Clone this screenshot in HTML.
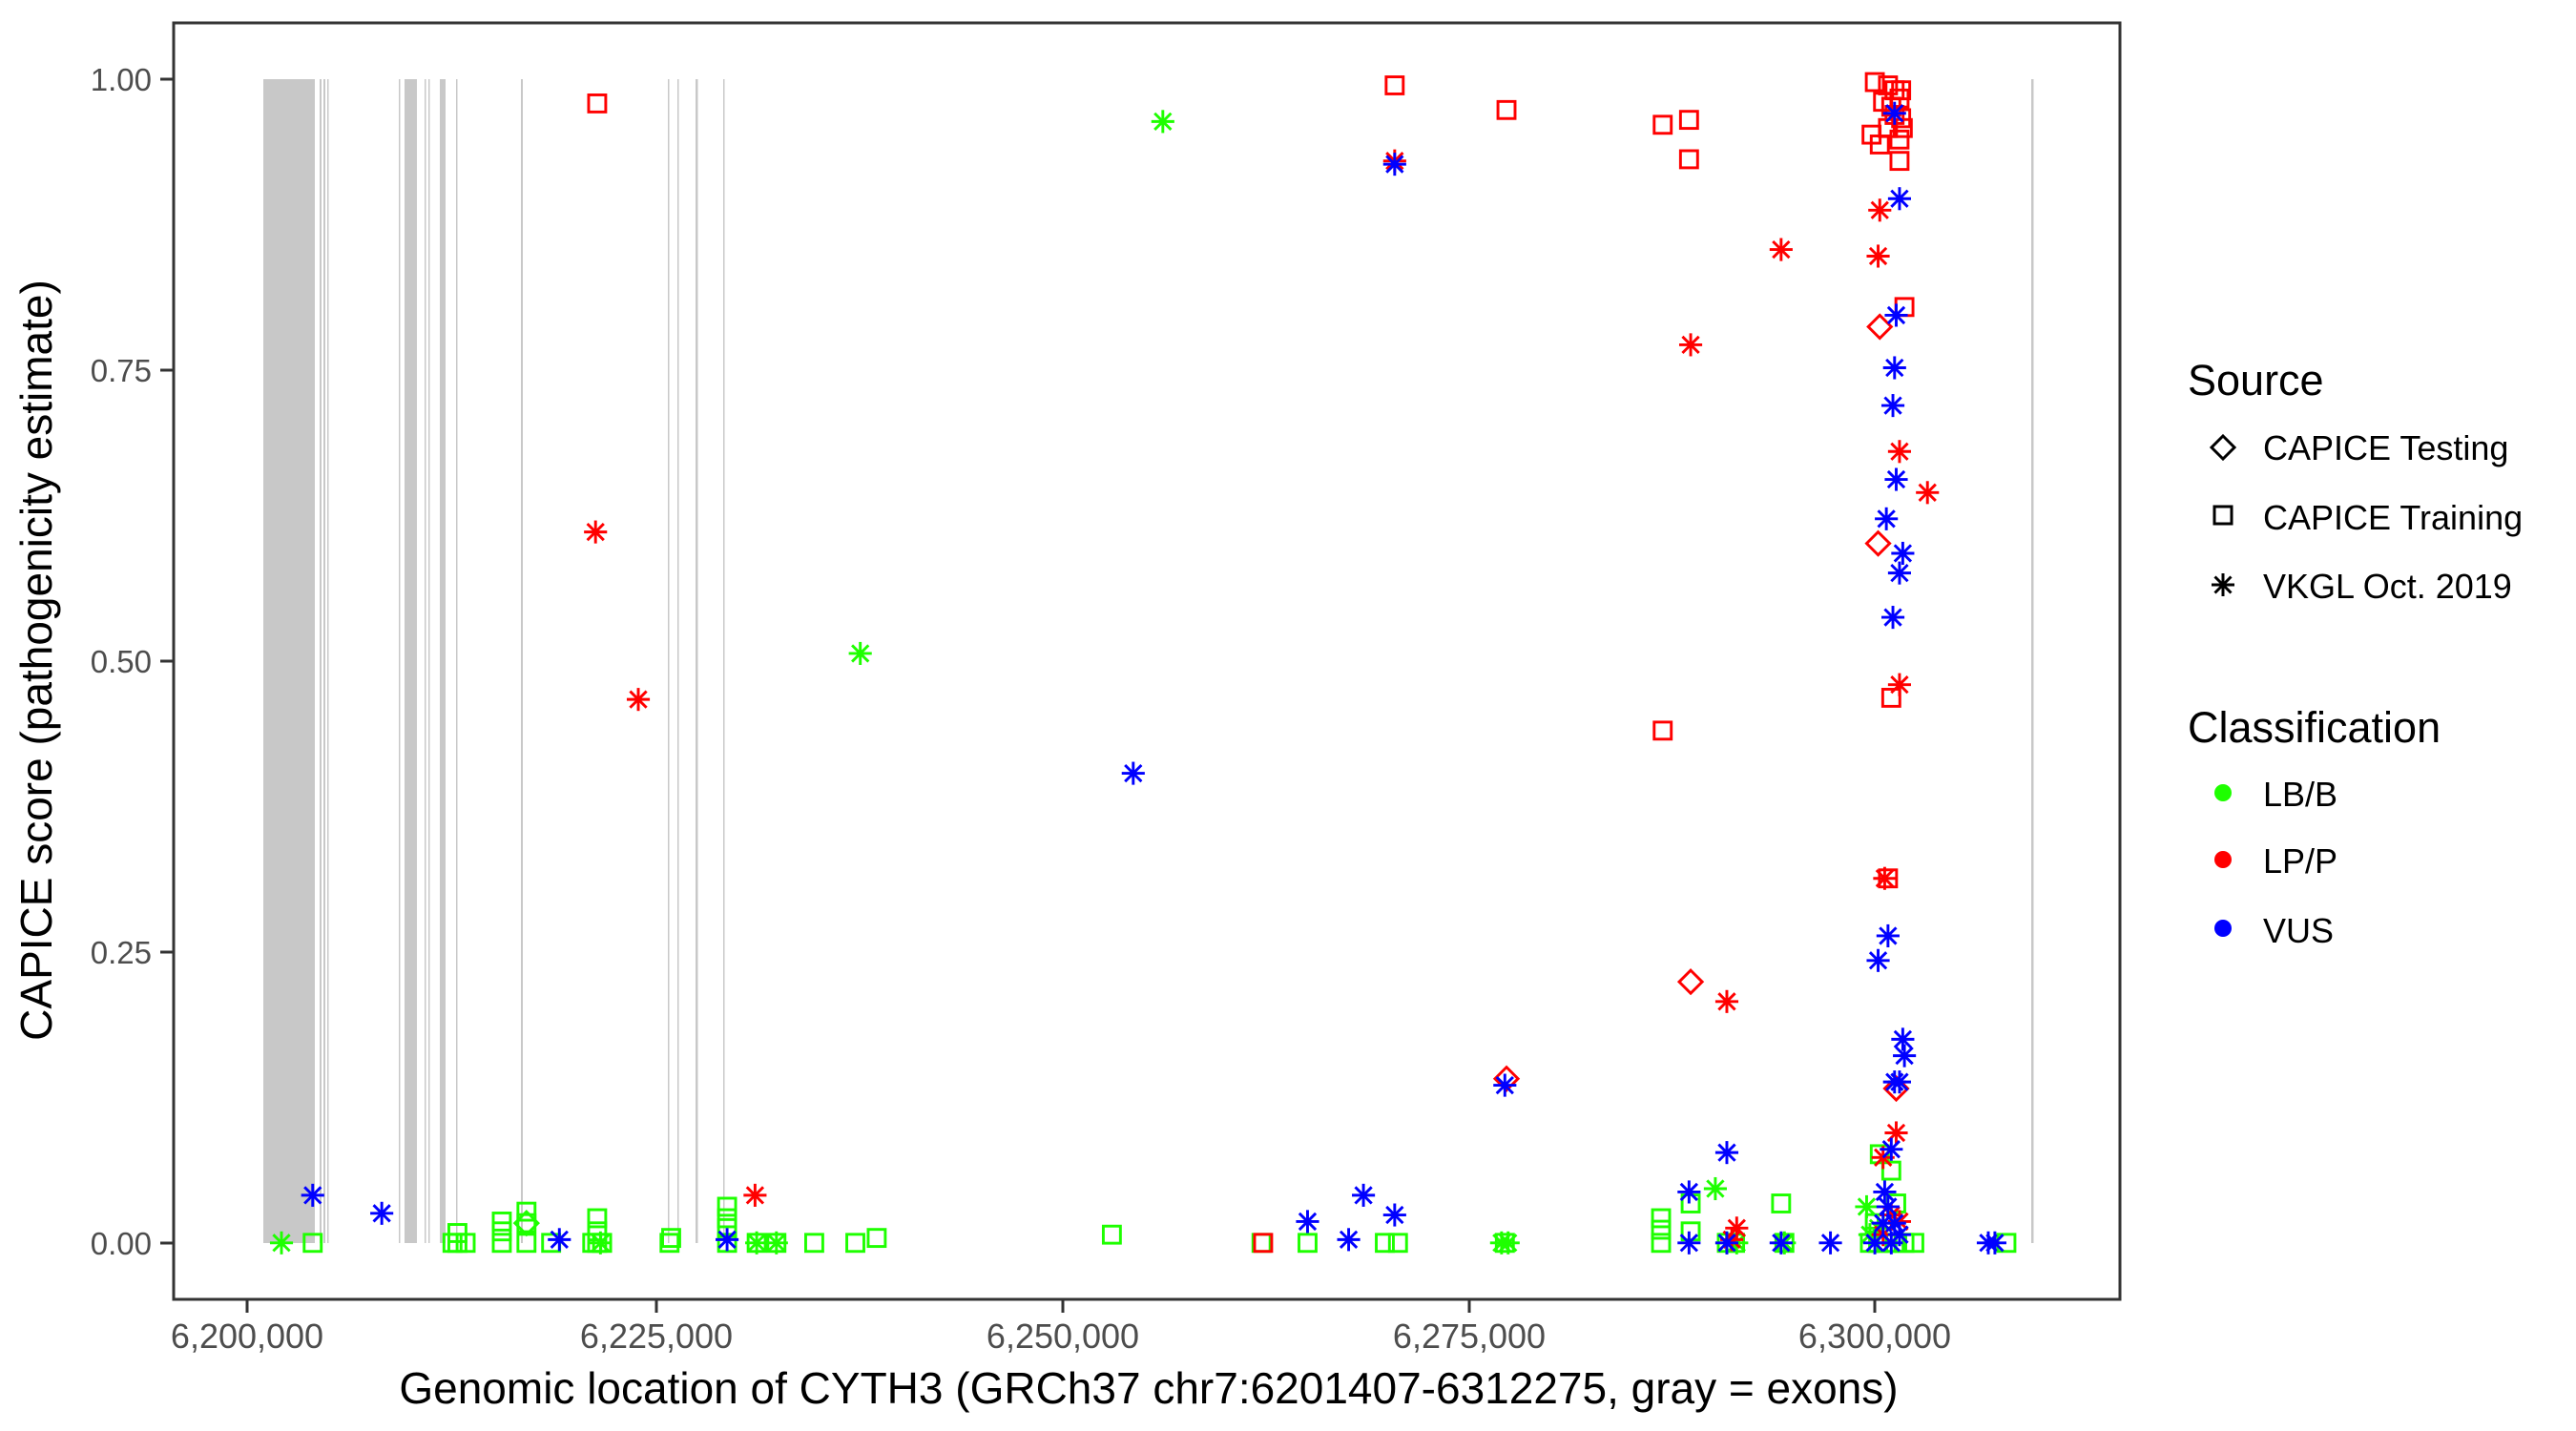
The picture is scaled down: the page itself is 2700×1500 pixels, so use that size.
<!DOCTYPE html>
<html><head><meta charset="utf-8"><style>
html,body{margin:0;padding:0;background:#fff;}
svg{display:block;font-family:"Liberation Sans",sans-serif;}
</style></head><body>
<svg width="2700" height="1500" viewBox="0 0 2700 1500" xmlns="http://www.w3.org/2000/svg">
<defs>
<g id="a" fill="none"><line x1="-7" y1="0" x2="7" y2="0"/><line x1="0" y1="-7" x2="0" y2="7"/><line x1="-5" y1="-5" x2="5" y2="5"/><line x1="-5" y1="5" x2="5" y2="-5"/></g>
<rect id="s" x="-5.2" y="-5.2" width="10.4" height="10.4" fill="none"/>
<path id="d" d="M0,-7L7,0L0,7L-7,0Z" fill="none"/>
</defs>
<rect x="0" y="0" width="2700" height="1500" fill="#fff"/>
<g fill="#c8c8c8">
<rect x="276" y="83" width="54" height="1220"/>
<rect x="335" y="83" width="2" height="1220"/><rect x="339" y="83" width="2" height="1220"/><rect x="343" y="83" width="1.5" height="1220"/>
<rect x="418" y="83" width="1.5" height="1220"/>
<rect x="424" y="83" width="13" height="1220"/>
<rect x="445" y="83" width="1.5" height="1220"/><rect x="449" y="83" width="1.5" height="1220"/>
<rect x="461" y="83" width="6" height="1220"/>
<rect x="478" y="83" width="1.5" height="1220"/>
<rect x="546" y="83" width="2" height="1220"/>
<rect x="700" y="83" width="1.5" height="1220"/><rect x="710" y="83" width="1.5" height="1220"/>
<rect x="729" y="83" width="2.5" height="1220"/>
<rect x="758" y="83" width="1.5" height="1220"/>
<rect x="2129" y="83" width="2.5" height="1220"/>
</g>
<g transform="matrix(1.7235 0 0 1.721 0.3 0)" stroke-width="1.7">
<g stroke="#1eff00">
<use href="#a" x="171" y="757"/><use href="#s" x="190" y="757"/>
<use href="#s" x="275" y="757"/><use href="#s" x="278" y="757"/><use href="#s" x="283" y="757"/><use href="#s" x="278" y="751"/>
<use href="#s" x="305" y="757"/><use href="#s" x="305" y="750"/><use href="#s" x="305" y="744"/>
<use href="#s" x="320" y="757"/><use href="#s" x="320" y="745"/><use href="#s" x="320" y="738"/><use href="#d" x="320" y="745"/>
<use href="#s" x="335" y="757"/>
<use href="#s" x="360" y="757"/><use href="#s" x="363" y="757"/><use href="#s" x="366" y="757"/><use href="#s" x="363" y="750"/><use href="#s" x="363" y="742"/><use href="#a" x="365" y="757"/>
<use href="#s" x="407" y="757"/><use href="#s" x="408" y="754"/>
<use href="#s" x="442" y="757"/><use href="#s" x="442" y="748"/><use href="#s" x="442" y="742"/><use href="#s" x="442" y="735"/>
<use href="#a" x="460" y="757"/><use href="#s" x="460" y="757"/><use href="#a" x="472" y="757"/><use href="#s" x="472" y="757"/>
<use href="#s" x="495" y="757"/><use href="#s" x="520" y="757"/><use href="#s" x="533" y="754"/>
<use href="#a" x="523" y="398"/><use href="#a" x="707" y="74"/>
<use href="#s" x="676" y="752"/>
<use href="#s" x="767" y="757"/><use href="#s" x="795" y="757"/><use href="#s" x="842" y="757"/><use href="#s" x="850" y="757"/>
<use href="#s" x="915" y="757"/><use href="#a" x="913" y="757"/><use href="#a" x="917" y="757"/>
<use href="#s" x="1010" y="757"/><use href="#s" x="1010" y="749"/><use href="#s" x="1010" y="742"/><use href="#s" x="1028" y="733"/><use href="#s" x="1028" y="750"/>
<use href="#a" x="1043" y="724"/>
<use href="#s" x="1050" y="757"/><use href="#a" x="1050" y="757"/><use href="#s" x="1055" y="757"/><use href="#a" x="1056" y="757"/><use href="#s" x="1083" y="733"/><use href="#s" x="1085" y="757"/><use href="#a" x="1085" y="757"/>
<use href="#s" x="1137" y="757"/><use href="#s" x="1142" y="757"/><use href="#s" x="1147" y="757"/><use href="#s" x="1152" y="757"/><use href="#s" x="1158" y="757"/><use href="#s" x="1164" y="757"/>
<use href="#a" x="1137" y="752"/><use href="#a" x="1142" y="748"/><use href="#s" x="1140" y="745"/>
<use href="#s" x="1143" y="703"/><use href="#s" x="1150" y="713"/><use href="#s" x="1153" y="733"/><use href="#a" x="1135" y="735"/>
<use href="#s" x="1220" y="757"/>
</g>
<g stroke="#ff0000">
<use href="#s" x="363" y="63"/><use href="#a" x="362" y="324"/><use href="#a" x="388" y="426"/><use href="#a" x="459" y="728"/>
<use href="#s" x="768" y="757"/><use href="#s" x="848" y="52"/><use href="#a" x="848" y="98"/>
<use href="#s" x="916" y="67"/><use href="#d" x="916" y="657"/>
<use href="#s" x="1011" y="76"/><use href="#s" x="1027" y="73"/><use href="#s" x="1027" y="97"/><use href="#s" x="1011" y="445"/>
<use href="#a" x="1028" y="210"/><use href="#d" x="1028" y="598"/><use href="#a" x="1050" y="610"/>
<use href="#a" x="1056" y="748"/><use href="#a" x="1053" y="755"/><use href="#a" x="1083" y="152"/>
<use href="#s" x="1140" y="50"/><use href="#s" x="1148" y="52"/><use href="#s" x="1152" y="55"/><use href="#s" x="1156" y="55"/><use href="#s" x="1145" y="62"/><use href="#s" x="1150" y="65"/><use href="#s" x="1155" y="60"/><use href="#s" x="1152" y="70"/><use href="#s" x="1156" y="72"/>
<use href="#s" x="1138" y="82"/><use href="#s" x="1143" y="88"/><use href="#s" x="1148" y="78"/><use href="#s" x="1155" y="85"/><use href="#s" x="1157" y="78"/><use href="#s" x="1155" y="98"/>
<use href="#s" x="1158" y="187"/><use href="#s" x="1150" y="425"/><use href="#s" x="1148" y="535"/>
<use href="#a" x="1143" y="128"/><use href="#a" x="1142" y="156"/><use href="#a" x="1155" y="275"/><use href="#a" x="1172" y="300"/><use href="#a" x="1155" y="417"/><use href="#a" x="1146" y="535"/><use href="#a" x="1153" y="690"/><use href="#a" x="1145" y="705"/>
<use href="#d" x="1143" y="199"/><use href="#d" x="1142" y="331"/><use href="#d" x="1153" y="663"/>
<use href="#a" x="1150" y="740"/><use href="#a" x="1145" y="752"/><use href="#a" x="1155" y="744"/>
</g>
<g stroke="#0000ff">
<use href="#a" x="190" y="728"/><use href="#a" x="232" y="739"/><use href="#a" x="340" y="755"/><use href="#a" x="442" y="755"/><use href="#a" x="689" y="471"/>
<use href="#a" x="795" y="744"/><use href="#a" x="820" y="755"/><use href="#a" x="829" y="728"/><use href="#a" x="848" y="740"/><use href="#a" x="848" y="100"/><use href="#a" x="915" y="661"/>
<use href="#a" x="1027" y="726"/><use href="#a" x="1027" y="757"/><use href="#a" x="1050" y="702"/><use href="#a" x="1050" y="757"/><use href="#a" x="1083" y="757"/><use href="#a" x="1113" y="757"/><use href="#a" x="1209" y="757"/><use href="#a" x="1213" y="757"/>
<use href="#a" x="1152" y="69"/><use href="#a" x="1155" y="121"/><use href="#a" x="1153" y="192"/><use href="#a" x="1152" y="224"/><use href="#a" x="1151" y="247"/><use href="#a" x="1153" y="292"/><use href="#a" x="1147" y="316"/><use href="#a" x="1157" y="337"/><use href="#a" x="1155" y="349"/><use href="#a" x="1151" y="376"/>
<use href="#a" x="1148" y="570"/><use href="#a" x="1142" y="585"/><use href="#a" x="1157" y="633"/><use href="#a" x="1158" y="643"/><use href="#a" x="1152" y="659"/><use href="#a" x="1155" y="659"/><use href="#a" x="1150" y="700"/><use href="#a" x="1148" y="735"/>
<use href="#a" x="1145" y="745"/><use href="#a" x="1152" y="745"/><use href="#a" x="1155" y="752"/><use href="#a" x="1140" y="757"/><use href="#a" x="1150" y="757"/><use href="#a" x="1146" y="726"/>
</g>
</g>
<rect x="182" y="24" width="2040" height="1338" fill="none" stroke="#333" stroke-width="3"/>
<g stroke="#333" stroke-width="3">
<line x1="168" y1="83" x2="182" y2="83"/><line x1="168" y1="388" x2="182" y2="388"/><line x1="168" y1="693" x2="182" y2="693"/><line x1="168" y1="998" x2="182" y2="998"/><line x1="168" y1="1303" x2="182" y2="1303"/>
<line x1="259" y1="1362" x2="259" y2="1376"/><line x1="688" y1="1362" x2="688" y2="1376"/><line x1="1114" y1="1362" x2="1114" y2="1376"/><line x1="1540" y1="1362" x2="1540" y2="1376"/><line x1="1965" y1="1362" x2="1965" y2="1376"/>
</g>
<g fill="#4d4d4d" font-size="33" text-anchor="end">
<text x="159" y="95">1.00</text><text x="159" y="400">0.75</text><text x="159" y="705">0.50</text><text x="159" y="1010">0.25</text><text x="159" y="1315">0.00</text>
</g>
<g fill="#4d4d4d" font-size="36" text-anchor="middle">
<text x="259" y="1413">6,200,000</text><text x="688" y="1413">6,225,000</text><text x="1114" y="1413">6,250,000</text><text x="1540" y="1413">6,275,000</text><text x="1965" y="1413">6,300,000</text>
</g>
<text x="1204" y="1471" font-size="46" text-anchor="middle" fill="#000">Genomic location of CYTH3 (GRCh37 chr7:6201407-6312275, gray = exons)</text>
<text transform="translate(54,692) rotate(-90)" font-size="46" text-anchor="middle" fill="#000">CAPICE score (pathogenicity estimate)</text>
<g fill="#000">
<text x="2293" y="414" font-size="45">Source</text>
<text x="2372" y="482" font-size="36">CAPICE Testing</text>
<text x="2372" y="555" font-size="36">CAPICE Training</text>
<text x="2372" y="627" font-size="36">VKGL Oct. 2019</text>
<text x="2293" y="778" font-size="45">Classification</text>
<text x="2372" y="845" font-size="36">LB/B</text>
<text x="2372" y="915" font-size="36">LP/P</text>
<text x="2372" y="988" font-size="36">VUS</text>
</g>
<g stroke="#000" stroke-width="3" fill="none">
<path d="M2330,457L2342,469L2330,481L2318,469Z"/>
<rect x="2321" y="531" width="18" height="18"/>
<g transform="translate(2330,613)"><line x1="-12" y1="0" x2="12" y2="0"/><line x1="0" y1="-12" x2="0" y2="12"/><line x1="-8.5" y1="-8.5" x2="8.5" y2="8.5"/><line x1="-8.5" y1="8.5" x2="8.5" y2="-8.5"/></g>
</g>
<circle cx="2330" cy="831" r="9" fill="#1eff00"/>
<circle cx="2330" cy="901" r="9" fill="#ff0000"/>
<circle cx="2330" cy="973" r="9" fill="#0000ff"/>
</svg>
</body></html>
